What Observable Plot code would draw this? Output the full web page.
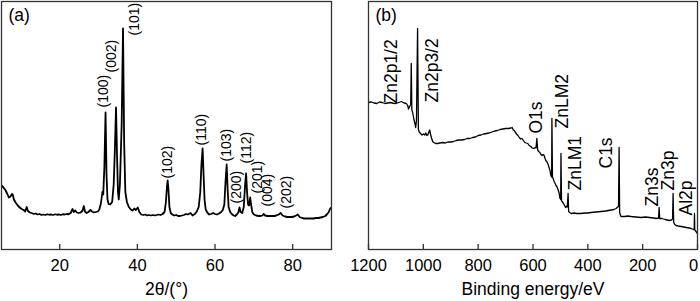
<!DOCTYPE html>
<html><head><meta charset="utf-8">
<script src="https://cdn.jsdelivr.net/npm/d3@7"></script>
<script src="https://cdn.jsdelivr.net/npm/@observablehq/plot@0.6"></script>
<style>
html,body{margin:0;padding:0;background:#fff;}
#wrap{display:flex;width:700px;height:301px;}
#wrap > div{width:350px;height:301px;}
svg{overflow:visible;}
</style></head><body><div id="wrap"><div id="pa"></div><div id="pb"></div></div>
<script>
// ---------- Panel (a): XRD ----------
const xrdAngle = [5.0,5.5,6.0,6.5,6.9,7.3,7.7,7.9,8.2,8.7,9.2,9.7,10.2,10.7,11.1,11.5,11.8,12.3,12.8,13.3,13.8,14.3,14.8,15.3,15.8,16.3,16.8,17.3,17.8,18.3,18.8,19.3,19.8,20.3,20.8,21.3,21.8,22.3,22.8,23.1,23.3,23.6,24.0,24.4,24.9,25.4,25.9,26.2,26.5,26.9,27.4,27.9,28.3,28.8,29.3,29.8,30.2,30.6,31.0,31.2,31.5,31.8,32.05,32.3,32.6,33.0,33.5,33.9,34.2,34.5,34.75,35.0,35.2,35.5,35.95,36.3,36.6,36.9,37.3,37.8,38.3,38.8,39.2,39.6,40.1,40.5,41.0,41.5,42.0,42.5,43.0,43.5,44.0,44.5,45.0,45.5,46.0,46.5,47.0,47.35,47.6,47.8,48.0,48.25,48.6,49.0,49.5,50.0,50.5,51.0,51.5,52.0,52.5,53.0,53.7,54.2,54.8,55.3,55.8,56.2,56.5,56.8,57.05,57.3,57.6,58.0,58.5,59.0,59.5,60.0,60.5,61.0,61.6,62.0,62.4,62.7,63.0,63.25,63.5,63.9,64.3,64.8,65.2,65.6,66.0,66.3,66.6,67.0,67.4,67.75,68.0,68.25,68.5,68.8,69.05,69.3,69.6,70.0,70.6,71.2,71.8,72.2,72.5,72.9,73.5,74.0,74.6,75.2,75.8,76.4,76.9,77.4,78.0,78.6,79.2,79.8,80.4,80.9,81.3,81.8,82.4,83.0,83.6,84.2,84.8,85.4,86.0,86.6,87.2,87.8,88.4,88.9,89.3,89.6,90.0];
const xrdCounts = [256,248,238,222,208,212,222,220,200,186,176,168,162,158,152,170,154,148,146,142,144,140,142,138,140,138,141,139,140,138,141,139,140,138,141,140,142,141,146,156,162,150,156,148,146,148,156,174,152,146,150,158,152,148,150,152,160,184,230,220,330,548,300,200,182,180,190,260,400,568,380,230,200,260,500,884,420,230,190,170,160,156,164,158,168,150,140,138,140,136,138,136,138,136,138,140,138,142,150,190,250,276,240,170,146,140,136,138,134,134,136,138,142,140,146,136,142,152,170,230,340,404,300,200,160,148,140,142,146,142,140,144,150,158,180,270,340,240,170,150,142,136,134,140,148,168,150,146,170,260,304,230,180,176,208,180,150,140,136,134,134,136,142,136,134,134,134,134,136,140,146,136,132,130,130,130,132,136,140,130,126,124,124,124,124,124,126,126,128,130,134,142,150,162,168];
const xrdLabels = ["(100)","(002)","(101)","(102)","(110)","(103)","(200)","(112)","(201)","(004)","(202)"];
const xrdLabelAngle = [31.3,33.4,39.3,47.8,56.5,63.0,65.6,68.1,71.0,73.5,78.4];
const xrdLabelCounts = [568,708,856,284,416,352,184,344,224,172,164];
const xrdTicks = [20,40,60,80];

// ---------- Panel (b): XPS ----------
const xpsEnergy = [1200,1190,1180,1170,1160,1150,1140,1130,1120,1110,1100,1090,1080,1070,1062,1057,1054,1050,1046,1044,1042,1039,1035,1030,1028,1025,1021,1018,1015,1010,1005,1000,995,991,987,984,980,977,974,970,966,962,955,948,940,930,920,911,900,890,880,870,860,850,840,830,820,810,800,790,780,770,760,750,740,730,720,710,700,690,680,676,672,668,664,660,655,650,645,640,635,630,625,619,614,608,603,597,592,589,586,583,579,575,571,567,563,560,556,553,549,546,542,538,535,532,531,529,527,523,520,516,513,509,505,502,499,498,496,494,490,487,483,480,477,475,472,470,466,461,450,440,425,410,400,388,370,352,335,315,305,297,291,288,286,284,281,279,265,255,242,225,206,190,175,160,150,142,140,138,130,118,110,103,95,91,89,87,83,78,70,59,50,41,30,23,15,12,11,10,8,4,1];
const xpsCounts = [588,590,586,584,590,588,584,586,588,585,584,588,592,586,584,576,562,572,580,744,560,548,524,500,488,516,884,480,470,464,458,462,458,466,456,458,470,478,462,446,432,428,424,424,426,428,426,430,430,432,436,438,438,440,444,444,448,450,456,458,462,464,466,470,474,476,480,482,484,484,486,488,478,476,468,462,456,448,442,444,436,428,426,424,416,412,406,404,408,406,444,398,392,388,380,376,380,378,364,356,350,344,330,316,296,290,524,288,286,272,266,256,252,240,228,206,200,384,196,192,186,180,172,168,174,170,224,152,148,144,146,144,144,146,146,148,150,152,154,158,160,164,170,174,408,150,136,132,132,134,132,130,128,130,128,126,124,126,168,124,124,120,118,116,118,122,224,110,100,96,94,92,90,88,86,84,80,80,144,78,76,70,64];
const xpsLabels = ["Zn2p1/2","Zn2p3/2","O1s","ZnLM2","ZnLM1","C1s","Zn3s","Zn3p","Al2p"];
const xpsLabelEnergy = [1116,966,589,494,447,334,165,107,41];
const xpsLabelCounts = [584,588,464,484,236,324,172,236,136];
const xpsTicks = [1200,1000,800,600,400,200,0];

const FONT = "'Liberation Sans', Arial, Helvetica, sans-serif";
const H = 301, MT = 1, MB = 52;
const TICK = 5;

function panel({xs, ys, labels, lx, ly, labelSize, lineWidth, domain, ticks, edgeTick, title, tag, mL, mR}) {
  const curve = xs.map((x, i) => ({x, y: ys[i]}));
  const lab = labels.map((t, i) => ({t, x: lx[i], y: ly[i]}));
  const inner = ticks.filter(d => d !== edgeTick);
  const edge = ticks.filter(d => d === edgeTick);
  const axisOpts = {tickSize: 0, tickPadding: 10, label: null, fontSize: 16.5, tickFormat: d => String(d)};
  const plot = Plot.plot({
    width: 350, height: H,
    marginLeft: mL, marginRight: mR, marginTop: MT, marginBottom: MB,
    style: {fontFamily: FONT, fontSize: "16.5px", color: "#000", background: "#fff", overflow: "visible"},
    x: {domain},
    y: {domain: [0, 992], axis: null},
    marks: [
      Plot.line(curve, {x: "x", y: "y", stroke: "#000", strokeWidth: lineWidth, clip: true}),
      Plot.text(lab, {x: "x", y: "y", text: "t", rotate: -90, textAnchor: "start", lineAnchor: "middle", fontSize: labelSize, fill: "#000"}),
      Plot.tickX(ticks, {x: d => d, insetTop: H - MT - MB - TICK, stroke: "#333", strokeWidth: 1.3}),
      Plot.axisX({...axisOpts, ticks: inner}),
      edge.length ? Plot.axisX({...axisOpts, ticks: edge, dx: -4}) : null,
      Plot.text([title], {frameAnchor: "bottom", dy: 40, lineAnchor: "middle", fontSize: 17.5, ariaLabel: "xtitle"}),
      Plot.text([tag], {frameAnchor: "top-left", dx: 7, dy: 7, textAnchor: "start", lineAnchor: "top", fontSize: 17.5}),
      Plot.frame({stroke: "#333", strokeWidth: 1.3})
    ]
  });
  return plot;
}

const pa = panel({xs: xrdAngle, ys: xrdCounts, labels: xrdLabels, lx: xrdLabelAngle, ly: xrdLabelCounts,
  labelSize: 14, lineWidth: 1.8, domain: [5, 90], ticks: xrdTicks, edgeTick: null, title: "2θ/(°)", tag: "(a)", mL: 1, mR: 19});
const pb = panel({xs: xpsEnergy, ys: xpsCounts, labels: xpsLabels, lx: xpsLabelEnergy, ly: xpsLabelCounts,
  labelSize: 17.5, lineWidth: 1.3, domain: [1200, 0], ticks: xpsTicks, edgeTick: 0, title: "Binding energy/eV", tag: "(b)", mL: 18, mR: 3});
document.getElementById("pa").appendChild(pa);
document.getElementById("pb").appendChild(pb);

// italic theta in the XRD axis title
const t = d3.select(pa).select('g[aria-label="xtitle"] text');
t.text(null);
t.append("tspan").text("2");
t.append("tspan").attr("font-style", "italic").text("θ");
t.append("tspan").text("/(°)");
</script>
</body></html>
